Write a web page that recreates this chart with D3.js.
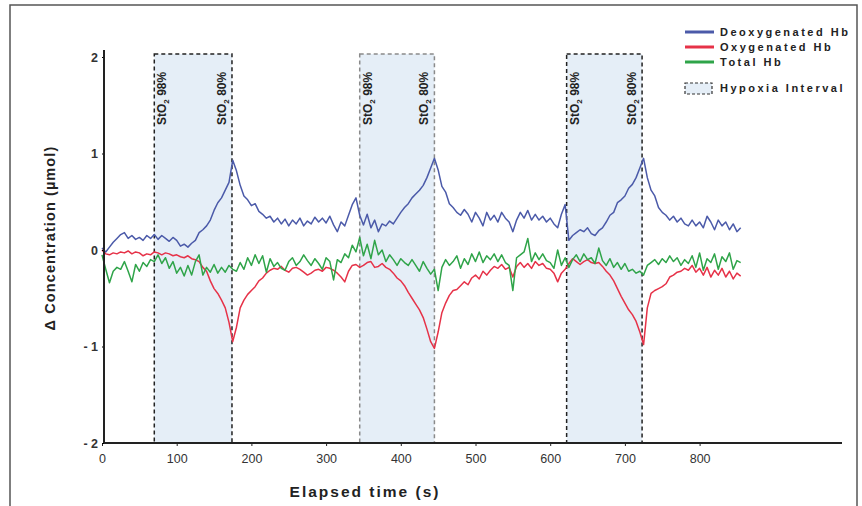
<!DOCTYPE html>
<html>
<head>
<meta charset="utf-8">
<script src="https://cdn.jsdelivr.net/npm/d3@7"></script>
<style>
  html, body { margin: 0; padding: 0; background: #fff; }
  svg { display: block; font-family: "Liberation Sans", Arial, sans-serif; }
</style>
</head>
<body>
<div id="chart"></div>
<script>
// elapsed time (s), one sample every 5 s
var elapsed = [
  0,5,10,15,20,25,30,35,40,45,50,55,60,65,70,75,80,85,90,95,
  100,105,110,115,120,125,130,135,140,145,150,155,160,165,170,175,180,185,190,195,
  200,205,210,215,220,225,230,235,240,245,250,255,260,265,270,275,280,285,290,295,
  300,305,310,315,320,325,330,335,340,345,350,355,360,365,370,375,380,385,390,395,
  400,405,410,415,420,425,430,435,440,445,450,455,460,465,470,475,480,485,490,495,
  500,505,510,515,520,525,530,535,540,545,550,555,560,565,570,575,580,585,590,595,
  600,605,610,615,620,625,630,635,640,645,650,655,660,665,670,675,680,685,690,695,
  700,705,710,715,720,725,730,735,740,745,750,755,760,765,770,775,780,785,790,795,
  800,805,810,815,820,825,830,835,840,845,850,855
];

// Δ concentration (µmol)
var deoxyHb = [
  0.02,-0.02,0.03,0.08,0.12,0.16,0.18,0.12,0.15,0.11,0.13,0.10,0.15,0.12,0.16,0.11,0.15,0.12,0.09,0.13,
  0.10,0.04,0.06,0.03,0.07,0.10,0.18,0.21,0.25,0.31,0.41,0.49,0.54,0.62,0.70,0.93,0.82,0.67,0.56,0.52,
  0.46,0.48,0.40,0.37,0.33,0.35,0.29,0.33,0.27,0.32,0.25,0.31,0.27,0.33,0.25,0.30,0.27,0.34,0.29,0.33,
  0.28,0.35,0.26,0.19,0.29,0.25,0.36,0.47,0.54,0.36,0.26,0.37,0.23,0.31,0.19,0.27,0.25,0.30,0.27,0.33,
  0.39,0.44,0.48,0.54,0.58,0.62,0.67,0.75,0.85,0.95,0.83,0.66,0.60,0.48,0.44,0.39,0.36,0.42,0.37,0.29,
  0.39,0.33,0.25,0.39,0.31,0.36,0.29,0.39,0.33,0.29,0.19,0.31,0.39,0.33,0.41,0.31,0.37,0.31,0.35,0.29,
  0.33,0.27,0.23,0.37,0.47,0.10,0.15,0.18,0.21,0.19,0.23,0.17,0.15,0.20,0.23,0.29,0.36,0.39,0.49,0.52,
  0.56,0.64,0.68,0.75,0.85,0.95,0.75,0.62,0.56,0.44,0.39,0.36,0.31,0.35,0.29,0.33,0.27,0.25,0.31,0.25,
  0.29,0.23,0.35,0.29,0.21,0.31,0.25,0.29,0.21,0.27,0.19,0.23
];

var oxyHb = [
  0.00,-0.04,-0.05,-0.03,-0.04,-0.02,-0.03,-0.01,-0.04,-0.02,-0.03,-0.06,-0.04,-0.05,-0.02,-0.03,-0.05,-0.03,-0.04,-0.06,
  -0.05,-0.07,-0.08,-0.06,-0.09,-0.10,-0.12,-0.18,-0.22,-0.32,-0.40,-0.45,-0.52,-0.60,-0.75,-0.95,-0.80,-0.60,-0.52,-0.46,
  -0.42,-0.38,-0.32,-0.29,-0.24,-0.21,-0.19,-0.20,-0.17,-0.21,-0.23,-0.19,-0.18,-0.20,-0.23,-0.26,-0.24,-0.21,-0.20,-0.22,
  -0.18,-0.19,-0.21,-0.24,-0.28,-0.33,-0.22,-0.16,-0.15,-0.18,-0.16,-0.13,-0.12,-0.18,-0.17,-0.14,-0.18,-0.20,-0.24,-0.29,
  -0.32,-0.37,-0.44,-0.50,-0.56,-0.62,-0.70,-0.82,-0.95,-1.02,-0.85,-0.65,-0.55,-0.47,-0.42,-0.41,-0.37,-0.33,-0.36,-0.29,
  -0.26,-0.30,-0.22,-0.26,-0.21,-0.17,-0.19,-0.15,-0.20,-0.18,-0.28,-0.17,-0.13,-0.18,-0.14,-0.19,-0.12,-0.16,-0.14,-0.19,
  -0.20,-0.24,-0.33,-0.24,-0.20,-0.14,-0.09,-0.12,-0.15,-0.12,-0.10,-0.13,-0.14,-0.13,-0.17,-0.22,-0.26,-0.32,-0.40,-0.48,
  -0.55,-0.62,-0.67,-0.74,-0.85,-0.98,-0.60,-0.45,-0.42,-0.40,-0.38,-0.35,-0.28,-0.26,-0.23,-0.22,-0.19,-0.21,-0.16,-0.23,
  -0.19,-0.26,-0.18,-0.28,-0.21,-0.26,-0.19,-0.28,-0.22,-0.30,-0.24,-0.27
];

var totalHb = [
  -0.05,-0.20,-0.34,-0.22,-0.18,-0.20,-0.12,-0.22,-0.33,-0.15,-0.22,-0.13,-0.17,-0.10,-0.12,-0.05,-0.14,-0.08,-0.19,-0.12,
  -0.24,-0.18,-0.27,-0.16,-0.26,-0.12,-0.05,-0.26,-0.18,-0.23,-0.15,-0.24,-0.18,-0.23,-0.16,-0.20,-0.22,-0.13,-0.20,-0.08,
  -0.16,-0.05,-0.14,-0.06,-0.23,-0.09,-0.17,-0.13,-0.19,-0.21,-0.12,-0.08,-0.16,-0.12,-0.05,-0.11,-0.16,-0.09,-0.14,-0.20,
  -0.08,-0.12,-0.31,-0.10,-0.13,-0.04,-0.08,0.05,-0.02,0.13,-0.06,0.06,-0.09,0.10,-0.05,0.00,-0.12,-0.05,-0.10,-0.16,
  -0.09,-0.13,-0.16,-0.10,-0.16,-0.22,-0.12,-0.19,-0.25,-0.20,-0.42,-0.18,-0.10,-0.16,-0.12,-0.06,-0.19,-0.09,-0.15,-0.04,
  -0.12,-0.02,-0.13,-0.06,-0.10,-0.04,-0.12,-0.05,-0.13,-0.16,-0.42,-0.08,-0.05,-0.02,0.12,-0.12,-0.03,-0.10,-0.04,-0.11,
  -0.13,-0.19,0.00,-0.16,-0.08,-0.18,-0.10,-0.05,-0.12,-0.04,-0.10,-0.08,-0.14,0.02,-0.11,-0.16,-0.09,-0.18,-0.13,-0.20,
  -0.14,-0.22,-0.20,-0.24,-0.22,-0.26,-0.16,-0.13,-0.10,-0.15,-0.09,-0.13,-0.06,-0.12,-0.08,-0.16,-0.10,-0.14,-0.06,-0.18,
  -0.03,-0.21,-0.09,-0.13,-0.04,-0.20,-0.07,-0.12,-0.03,-0.20,-0.11,-0.13
];

// hypoxia intervals [start, end] in s
var hypoxiaStart = [70, 345, 622];
var hypoxiaEnd = [174, 445, 723];
var hypoxiaBorder = ["#222", "#8a8a8a", "#222"];

var xTicks = [0, 100, 200, 300, 400, 500, 600, 700, 800];
var yTicks = [-2, -1, 0, 1, 2];

var seriesNames = ["Deoxygenated Hb", "Oxygenated Hb", "Total Hb"];
var seriesColors = ["#4b5aa9", "#e63248", "#2fa449"];

var width = 862, height = 506;

var svg = d3.select("#chart").append("svg")
    .attr("width", width)
    .attr("height", height);

// outer frame
svg.append("rect")
    .attr("x", 10).attr("y", 5)
    .attr("width", 847).attr("height", 520)
    .attr("fill", "none")
    .attr("stroke", "#555")
    .attr("stroke-width", 1.5);

var x = d3.scaleLinear().domain([0, 800]).range([102, 699.6]);
var y = d3.scaleLinear().domain([-2, 2]).range([443, 57]);

// hypoxia bands
var bands = svg.append("g");
hypoxiaStart.forEach(function(s, i) {
    var e = hypoxiaEnd[i];
    bands.append("rect")
        .attr("x", x(s)).attr("y", 54)
        .attr("width", x(e) - x(s))
        .attr("height", y(-2) - 54)
        .attr("fill", "#e5eef7")
        .attr("stroke", hypoxiaBorder[i])
        .attr("stroke-width", 1.5)
        .attr("stroke-dasharray", "4,3");

    [[x(s) + 12, "98%"], [x(e) - 6, "80%"]].forEach(function(l) {
        var t = bands.append("text")
            .attr("transform", "translate(" + l[0] + ",125) rotate(-90)")
            .attr("font-size", 12)
            .attr("font-weight", "bold")
            .attr("fill", "#222");
        t.append("tspan").text("StO");
        t.append("tspan").attr("font-size", 8).attr("dy", 3).text("2");
        t.append("tspan").attr("dy", -3).text(" " + l[1]);
    });
});

// lines
var line = d3.line()
    .x(function(d, i) { return x(elapsed[i]); })
    .y(function(d) { return y(d); });

[deoxyHb, oxyHb, totalHb].forEach(function(vals, i) {
    svg.append("path")
        .datum(vals)
        .attr("d", line)
        .attr("fill", "none")
        .attr("stroke", seriesColors[i])
        .attr("stroke-width", 1.5)
        .attr("stroke-linejoin", "round");
});

// axes
var xAxis = svg.append("g")
    .attr("transform", "translate(0," + y(-2) + ")")
    .call(d3.axisBottom(x).tickValues(xTicks).tickSize(3).tickPadding(8));
xAxis.select(".domain").remove();
xAxis.selectAll("text").attr("font-size", 12.5).attr("fill", "#333")
    .attr("font-family", "Liberation Sans, Arial, sans-serif");
xAxis.selectAll("line").attr("stroke", "#222");

svg.append("line")
    .attr("x1", 103).attr("x2", 842)
    .attr("y1", y(-2)).attr("y2", y(-2))
    .attr("stroke", "#222").attr("stroke-width", 2);

var yAxis = svg.append("g")
    .attr("transform", "translate(104,0)")
    .call(d3.axisLeft(y).tickValues(yTicks).tickSize(2).tickPadding(4).tickFormat(d3.format("d")));
yAxis.select(".domain").remove();
yAxis.selectAll("text").attr("font-size", 12.5).attr("font-weight", "bold").attr("fill", "#333")
    .attr("font-family", "Liberation Sans, Arial, sans-serif")
    .text(function(d) { return d < 0 ? "- " + Math.abs(d) : d; });

svg.append("line")
    .attr("x1", 104).attr("x2", 104)
    .attr("y1", 50).attr("y2", y(-2))
    .attr("stroke", "#222").attr("stroke-width", 2);

// axis titles
svg.append("text")
    .attr("x", 365).attr("y", 497)
    .attr("text-anchor", "middle")
    .attr("font-size", 15.5).attr("font-weight", "bold")
    .attr("letter-spacing", 2)
    .attr("fill", "#222")
    .text("Elapsed time (s)");

svg.append("text")
    .attr("transform", "translate(55,238) rotate(-90)")
    .attr("text-anchor", "middle")
    .attr("font-size", 14.5).attr("font-weight", "bold")
    .attr("letter-spacing", 1.1)
    .attr("fill", "#222")
    .text("Δ Concentration (µmol)");

// legend
var legend = svg.append("g");
seriesNames.forEach(function(name, i) {
    var ly = 32 + i * 15;
    legend.append("line")
        .attr("x1", 685).attr("x2", 714)
        .attr("y1", ly).attr("y2", ly)
        .attr("stroke", seriesColors[i]).attr("stroke-width", 3);
    legend.append("text")
        .attr("x", 720).attr("y", ly + 4)
        .attr("font-size", 11).attr("font-weight", "bold")
        .attr("letter-spacing", 2.5)
        .attr("fill", "#222")
        .text(name);
});
legend.append("rect")
    .attr("x", 685).attr("y", 83)
    .attr("width", 27).attr("height", 11)
    .attr("fill", "#e5eef7")
    .attr("stroke", "#333").attr("stroke-width", 1.2)
    .attr("stroke-dasharray", "3,2");
legend.append("text")
    .attr("x", 720).attr("y", 92)
    .attr("font-size", 11).attr("font-weight", "bold")
    .attr("letter-spacing", 2.5)
    .attr("fill", "#222")
    .text("Hypoxia Interval");
</script>
</body>
</html>
